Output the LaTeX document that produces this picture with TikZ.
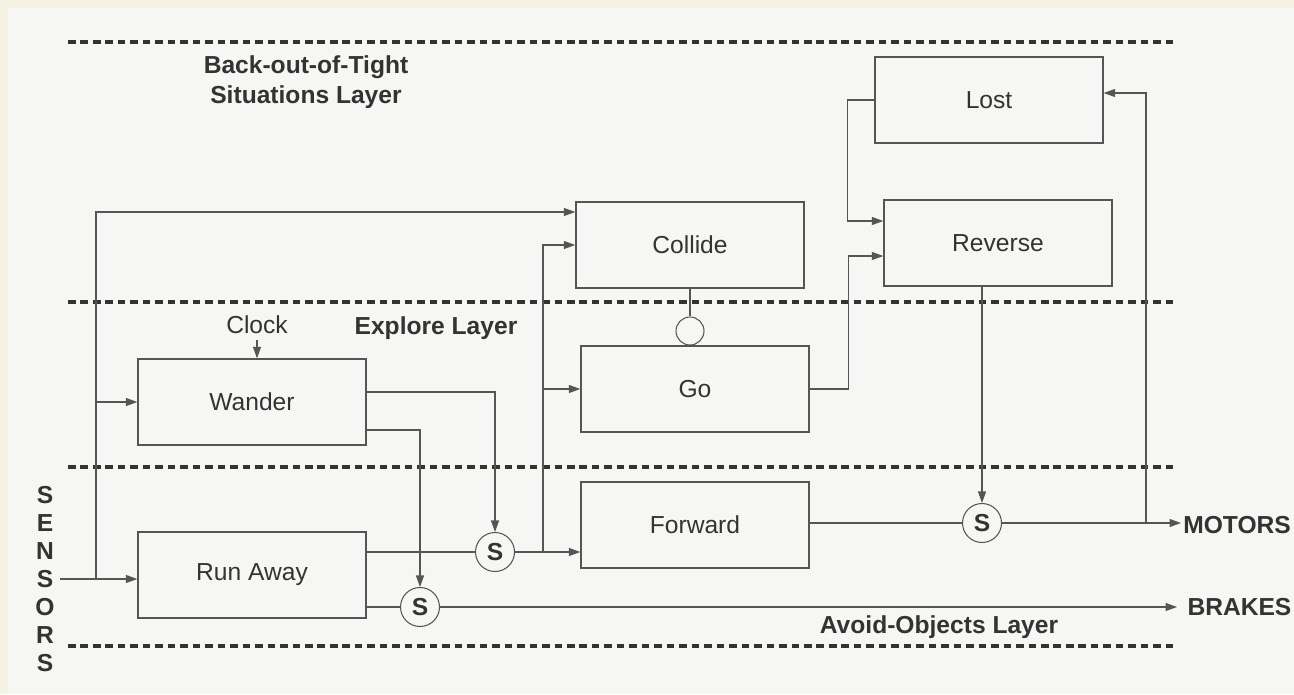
\documentclass[tikz,border=0pt]{standalone}
\usepackage{fontspec}
\setsansfont{Liberation Sans}
\usetikzlibrary{arrows.meta, calc}
\definecolor{cink}{HTML}{333333}
\definecolor{cline}{HTML}{555555}
\definecolor{cpaper}{HTML}{F6F6F4}
\definecolor{ccream}{HTML}{F4F2E0}
\tikzset{
  every picture/.style={font=\sffamily\fontsize{14}{17}\selectfont, line width=0.6pt, text=cink},
  box/.style={draw=cline, line width=0.8pt, minimum width=4.56cm, minimum height=1.72cm, inner sep=0pt},
  arrow/.style={-{Triangle[length=2.3mm, width=1.6mm]}, draw=cline},
  wire/.style={draw=cline},
  sw/.style={circle, draw=cline, minimum size=0.78cm, inner sep=0pt, font=\sffamily\bfseries\fontsize{14}{17}\selectfont},
  title/.style={font=\sffamily\bfseries\fontsize{14}{17}\selectfont, align=center},
  layer/.style={draw=cink, line width=2.3pt, dash pattern=on 4.3pt off 2.8pt},
}

\begin{document}
\begin{tikzpicture}[x=0.02cm, y=-0.02cm]
  \useasboundingbox (0,0) rectangle (1294,694);
  \fill[ccream] (0,0) rectangle (1294,694);
  \fill[cpaper] (8,8) rectangle (1294,694);
  \foreach \y in {42,302,467,646} \draw[layer] (68,\y) -- (1175,\y);
  \node[title] (tback) at (306,82) {Back-out-of-Tight\\Situations Layer};
  \node[title] (texplore) at (436,328) {Explore Layer};
  \node[title] (tavoid) at (939,627) {Avoid-Objects Layer};
  \node[title, font=\sffamily\bfseries\fontsize{14}{15.9}\selectfont] (sensors) at (45,579) {S\\E\\N\\S\\O\\R\\S};
  \node[title, anchor=west, inner xsep=1pt] (motors) at (1181,525) {MOTORS};
  \node[title, anchor=west, inner xsep=0.2cm] (brakes) at (1177,607) {BRAKES};
  \node (clock) at (257,325) {Clock};
  % behaviours
  \node[box] (lost) at (989,100) {Lost};
  \node[box] (reverse) at (998,243) {Reverse};
  \node[box] (collide) at (690,245) {Collide};
  \node[box] (go) at (695,389) {Go};
  \node[box] (wander) at (252,402) {Wander};
  \node[box] (runaway) at (252,575) {Run Away};
  \node[box] (forward) at (695,525) {Forward};
  \node[sw] (sup1) at (495,552) {S};
  \node[sw] (sup2) at (420,607) {S};
  \node[sw] (smot) at (982,523) {S};
  \node[circle, draw=cline, minimum size=0.56cm, inner sep=0pt] (inh) at (690,331) {};
  % sensor lines
  \coordinate (sin) at (60,579);
  \coordinate (trunk) at (96,579);
  \draw[arrow] (sin) -- (sin -| runaway.west);
  \draw[arrow] (trunk) |- ($(collide.west)+(0,-33)$);
  \draw[arrow] (trunk |- wander.west) -- (wander.west);
  % avoid-objects / explore
  \draw[wire] (runaway.east |- sup2) -- (sup2);
  \draw[wire] (runaway.east |- sup1) -- (sup1);
  \draw[arrow] ($(wander.east)+(0,-10)$) -| (sup1.north);
  \draw[arrow] ($(wander.east)+(0,28)$) -| (sup2.north);
  \draw[arrow] (clock) -- (clock |- wander.north);
  \draw[arrow] (sup1) -- (sup1 -| forward.west);
  \coordinate (jn) at (543,552);
  \draw[arrow] (jn) |- (collide.west);
  \draw[arrow] (jn |- go.west) -- (go.west);
  \draw[wire] (collide.south) -- (inh.north);
  % back-out
  \draw[arrow] (go.east) -- ++(39,0) |- ($(reverse.west)+(0,13)$);
  \draw[arrow] (lost.west) -- ++(-27,0) |- ($(reverse.west)+(0,-22)$);
  \draw[arrow] (smot |- reverse.south) -- (smot.north);
  \draw[wire] (forward.east |- smot) -- (smot);
  \draw[arrow] (smot) -- (smot -| motors.west);
  \coordinate (fb) at (1146,523);
  \draw[arrow] (fb) |- ($(lost.east)+(0,-7)$);
  \draw[arrow] (sup2) -- (sup2 -| brakes.west);
\end{tikzpicture}
\end{document}
